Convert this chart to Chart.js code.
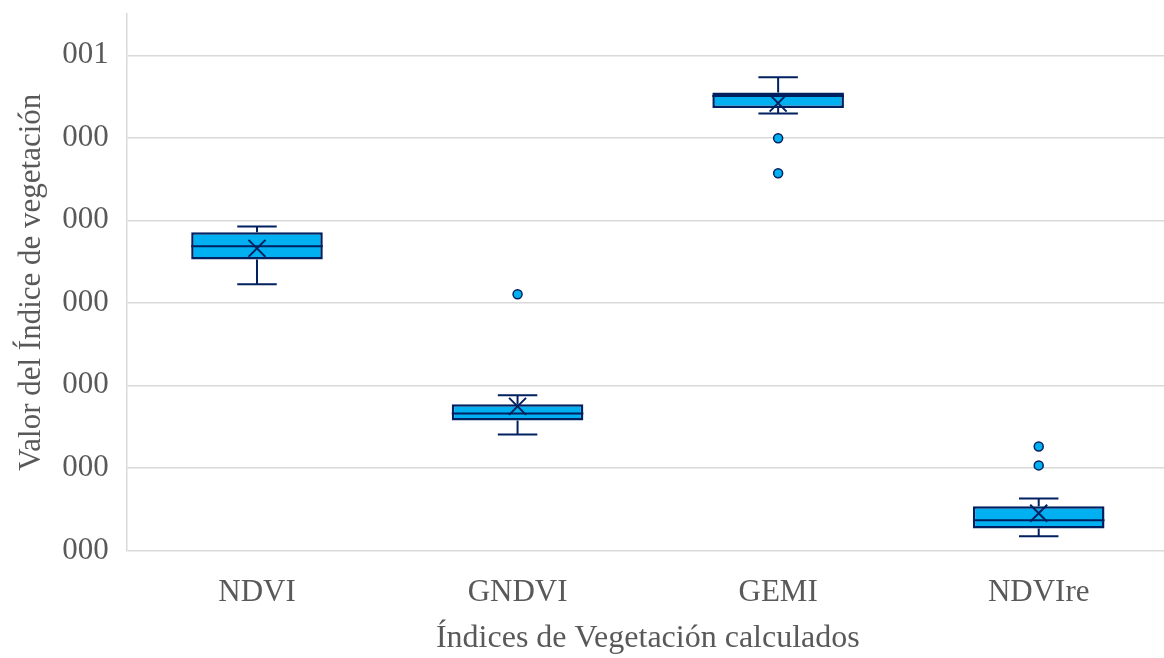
<!DOCTYPE html>
<html>
<head>
<meta charset="utf-8">
<script src="https://cdn.jsdelivr.net/npm/chart.js@4.4.1/dist/chart.umd.min.js"></script>
<style>
  html, body { margin: 0; padding: 0; background: #fff; overflow: hidden; }
  #wrap { position: relative; width: 1183px; height: 658px; }
</style>
</head>
<body>
<div id="wrap"><canvas id="myChart"></canvas></div>
<script>
// data
const indices = ["NDVI", "GNDVI", "GEMI", "NDVIre"];
const whiskerMin = [0.645, 0.281, 1.059, 0.034];
const q1 = [0.705, 0.315, 1.072, 0.053];
const median = [0.737, 0.332, 1.101, 0.073];
const q3 = [0.771, 0.354, 1.110, 0.107];
const whiskerMax = [0.785, 0.376, 1.147, 0.126];
const mean = [0.732, 0.349, 1.084, 0.090];
const outlierCat = ["GNDVI", "GEMI", "GEMI", "NDVIre", "NDVIre"];
const outlierVal = [0.621, 0.999, 0.914, 0.252, 0.206];
const tickValues = [0, 0.2, 0.4, 0.6, 0.8, 1.0, 1.2];
const tickLabels = ["000", "000", "000", "000", "000", "000", "001"];

const navy = '#002060';
const fill = '#00B0F0';
const grey = '#595959';
const fontFam = 'Liberation Serif';

// whiskers + median line drawn right after the boxes
const boxExtras = {
  id: 'boxExtras',
  afterDatasetDraw(chart, args) {
    if (args.index !== 0) return;
    const c = chart.ctx;
    const y = chart.scales.y;
    c.save();
    c.strokeStyle = navy;
    c.lineWidth = 2;
    args.meta.data.forEach((bar, i) => {
      const x = bar.x;
      const half = bar.width / 2;
      const cap = bar.width * 0.15;
      const yMin = y.getPixelForValue(whiskerMin[i]);
      const yMax = y.getPixelForValue(whiskerMax[i]);
      const yQ1 = y.getPixelForValue(q1[i]);
      const yQ3 = y.getPixelForValue(q3[i]);
      const yMed = y.getPixelForValue(median[i]);
      c.beginPath();
      c.moveTo(x, yQ3); c.lineTo(x, yMax);
      c.moveTo(x - cap, yMax); c.lineTo(x + cap, yMax);
      c.moveTo(x, yQ1); c.lineTo(x, yMin);
      c.moveTo(x - cap, yMin); c.lineTo(x + cap, yMin);
      c.moveTo(x - half, yMed); c.lineTo(x + half, yMed);
      c.stroke();
    });
    c.restore();
  }
};

const ctx = document.getElementById('myChart');
new Chart(ctx, {
  type: 'bar',
  data: {
    labels: indices,
    datasets: [{
      label: 'box',
      data: indices.map((_, i) => [q1[i], q3[i]]),
      backgroundColor: fill,
      borderColor: navy,
      borderWidth: 2.5,
      borderSkipped: false,
      categoryPercentage: 1,
      barPercentage: 0.505,
      order: 3
    }, {
      type: 'line',
      label: 'outliers',
      data: outlierCat.map((c, i) => ({ x: c, y: outlierVal[i] })),
      showLine: false,
      pointStyle: 'circle',
      pointRadius: 4.5,
      pointBackgroundColor: fill,
      pointBorderColor: navy,
      pointBorderWidth: 1.5,
      order: 2
    }, {
      type: 'line',
      label: 'mean',
      data: mean,
      showLine: false,
      pointStyle: 'crossRot',
      pointRadius: 12,
      pointBorderColor: navy,
      pointBorderWidth: 2,
      order: 1
    }]
  },
  plugins: [boxExtras],
  options: {
    responsive: true,
    maintainAspectRatio: false,
    animation: false,
    layout: { padding: { left: 13, top: 13, right: 0, bottom: 0 } },
    plugins: {
      legend: { display: false },
      tooltip: { enabled: false }
    },
    scales: {
      x: {
        grid: { display: false, drawTicks: false },
        border: { display: false },
        ticks: {
          color: grey,
          padding: 24,
          font: { family: fontFam, size: 31 }
        },
        title: {
          display: true,
          text: 'Índices de Vegetación calculados',
          color: grey,
          padding: { top: -16, bottom: 0 },
          font: { family: fontFam, size: 32 }
        }
      },
      y: {
        min: 0,
        max: 1.3,
        afterBuildTicks(scale) {
          scale.ticks = tickValues.map(v => ({ value: v }));
        },
        grid: { color: '#d9d9d9', lineWidth: 1.5, drawTicks: true, tickLength: 18, tickColor: 'rgba(0,0,0,0)' },
        border: { display: true, color: '#d9d9d9', width: 1.5 },
        ticks: {
          color: grey,
          padding: 0,
          font: { family: fontFam, size: 31, lineHeight: 0.8 },
          callback: (v, i) => tickLabels[i]
        },
        title: {
          display: true,
          text: 'Valor del Índice de vegetación',
          color: grey,
          padding: { top: 0, bottom: 12 },
          font: { family: fontFam, size: 31 }
        }
      }
    }
  }
});
</script>
</body>
</html>
